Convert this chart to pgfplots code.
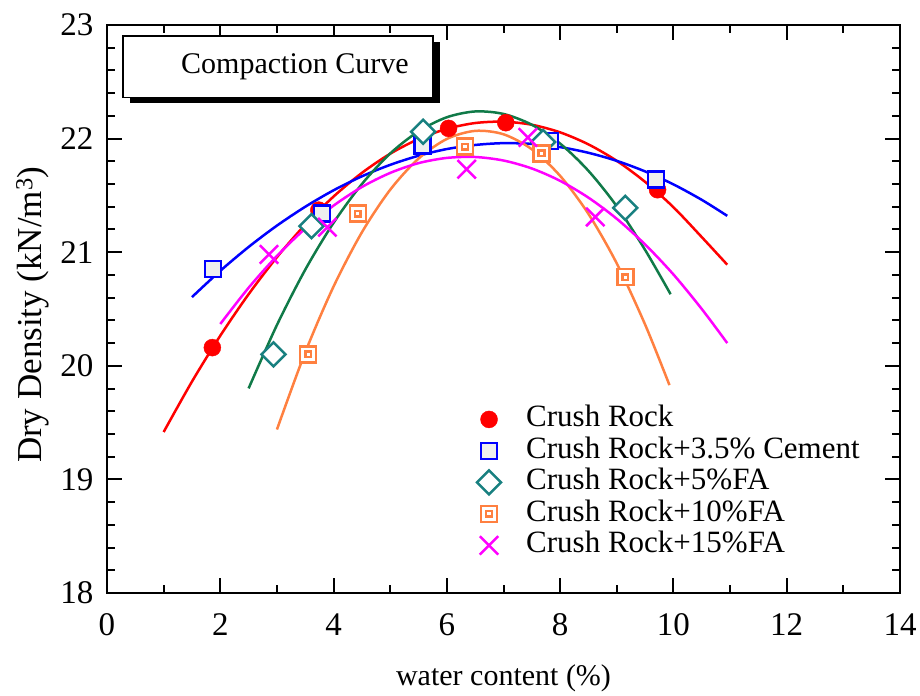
\documentclass[border=0pt]{standalone}
\usepackage{fontspec}
\setmainfont{Liberation Serif}
\usepackage{pgfplots}
\pgfplotsset{compat=1.18}
\definecolor{cred}{RGB}{255,0,0}
\definecolor{cblue}{RGB}{0,0,255}
\definecolor{cgreen}{RGB}{16,122,72}
\definecolor{cteal}{RGB}{24,128,128}
\definecolor{corange}{RGB}{255,128,64}
\definecolor{cmag}{RGB}{255,0,255}
\definecolor{cgray}{RGB}{238,238,238}
\pgfdeclareplotmark{dsq}{%
  \pgfpathrectangle{\pgfpoint{-\pgfplotmarksize}{-\pgfplotmarksize}}{\pgfpoint{2\pgfplotmarksize}{2\pgfplotmarksize}}%
  \pgfusepathqfillstroke
  \pgfpathrectangle{\pgfpoint{-0.35\pgfplotmarksize}{-0.35\pgfplotmarksize}}{\pgfpoint{0.7\pgfplotmarksize}{0.7\pgfplotmarksize}}%
  \pgfusepathqstroke}
\pgfdeclareplotmark{rdiam}{%
  \pgfpathmoveto{\pgfpoint{0pt}{\pgfplotmarksize}}%
  \pgfpathlineto{\pgfpoint{\pgfplotmarksize}{0pt}}%
  \pgfpathlineto{\pgfpoint{0pt}{-\pgfplotmarksize}}%
  \pgfpathlineto{\pgfpoint{-\pgfplotmarksize}{0pt}}%
  \pgfpathclose
  \pgfusepathqfillstroke}
\begin{document}
\begin{tikzpicture}
\begin{axis}[
  scale only axis, width=793pt, height=568pt,
  xmin=0, xmax=14, ymin=18, ymax=23,
  xtick={0,2,...,14}, minor x tick num=1,
  ytick={18,19,...,23}, minor y tick num=4,
  tick align=inside,
  major tick length=15pt, minor tick length=8pt,
  every tick/.style={black, line width=2pt},
  axis line style={line width=2.2pt},
  /pgf/number format/assume math mode=true,
  ticklabel style={font=\fontsize{33}{33}\selectfont},
  xticklabel style={yshift=-17pt},
  yticklabel style={xshift=-10pt},
  xlabel={water content (\%)},
  ylabel={Dry Density (kN/m\textsuperscript{3})},
  xlabel style={font=\fontsize{30}{30}\selectfont, at={(axis description cs:0.5,-0.15)}, anchor=center},
  ylabel style={font=\fontsize{35}{35}\selectfont, at={(axis description cs:-0.094,0.49)}, anchor=center},
  legend cell align=left,
  legend style={at={(rel axis cs:0.4626,0.335)}, anchor=north west, draw=none, fill=none,
    font=\fontsize{31}{31}\selectfont, row sep=2.5pt,
    nodes={inner ysep=0pt, text height=22pt, text depth=7pt}},
  legend image code/.code={\draw[mark repeat=2,mark phase=2] plot coordinates {(0pt,0pt)(15pt,0pt)(30pt,0pt)}; \path (50pt,0pt);},
]
% title box
\fill[black] (rel axis cs:0.0290,0.8620) rectangle (rel axis cs:0.4200,0.9700);
\draw[black, line width=1.2pt, fill=white] (rel axis cs:0.0202,0.8730) rectangle (rel axis cs:0.4110,0.9806);
\node[font=\fontsize{30}{30}\selectfont] at (rel axis cs:0.237,0.9268) {Compaction Curve};
% fitted curves
\addplot[cred, line width=2.5pt, smooth, forget plot] coordinates {
(1.0,19.417)(1.5,19.861)(2.0,20.265)(2.5,20.630)(3.0,20.956)(3.5,21.243)(4.0,21.490)(4.5,21.698)(5.0,21.867)(5.5,21.996)(6.0,22.086)(6.5,22.137)(7.0,22.149)(7.5,22.122)(8.0,22.055)(8.5,21.949)(9.0,21.804)(9.5,21.619)(10.0,21.396)(10.5,21.133)(10.95,20.890)};
\addplot[cblue, line width=2.5pt, smooth, forget plot] coordinates {
(1.5,20.605)(2.0,20.836)(2.5,21.046)(3.0,21.234)(3.5,21.400)(4.0,21.545)(4.5,21.668)(5.0,21.769)(5.5,21.849)(6.0,21.908)(6.5,21.944)(7.0,21.960)(7.5,21.953)(8.0,21.925)(8.5,21.875)(9.0,21.804)(9.5,21.711)(10.0,21.597)(10.5,21.461)(10.95,21.320)};
\addplot[cgreen, line width=2.5pt, smooth, forget plot] coordinates {
(2.5,19.801)(3.0,20.359)(3.5,20.846)(4.0,21.259)(4.5,21.600)(5.0,21.869)(5.5,22.064)(6.0,22.188)(6.5,22.239)(7.0,22.217)(7.5,22.122)(8.0,21.956)(8.5,21.716)(9.0,21.404)(9.5,21.020)(9.95,20.630)};
\addplot[corange, line width=2.5pt, smooth, forget plot] coordinates {
(3.0,19.439)(3.5,20.119)(4.0,20.698)(4.5,21.175)(5.0,21.550)(5.5,21.824)(6.0,21.997)(6.5,22.068)(7.0,22.038)(7.5,21.906)(8.0,21.672)(8.5,21.337)(9.0,20.901)(9.5,20.363)(9.93,19.830)};
\addplot[cmag, line width=2.5pt, smooth, forget plot] coordinates {
(2.0,20.368)(2.5,20.687)(3.0,20.967)(3.5,21.208)(4.0,21.410)(4.5,21.574)(5.0,21.698)(5.5,21.784)(6.0,21.830)(6.5,21.838)(7.0,21.807)(7.5,21.737)(8.0,21.628)(8.5,21.480)(9.0,21.294)(9.5,21.068)(10.0,20.804)(10.5,20.500)(10.95,20.200)};
% data points
\addplot[only marks, mark=*, mark size=8.5pt, cred, mark options={fill=cred, draw=cred}] coordinates {
(1.86,20.16)(3.74,21.37)(6.03,22.09)(7.04,22.14)(9.72,21.55)};
\addlegendentry{Crush Rock}
\addplot[only marks, mark=square*, mark size=8pt, mark options={draw=cblue, fill=cgray, line width=2.5pt}] coordinates {
(1.87,20.85)(3.80,21.34)(5.57,21.94)(7.82,21.98)(9.69,21.64)};
\addlegendentry{Crush Rock+3.5\% Cement}
\addplot[only marks, mark=rdiam, mark size=12pt, mark options={draw=cteal, fill=white, line width=2.5pt}] coordinates {
(2.94,20.10)(3.61,21.23)(5.58,22.06)(7.70,21.97)(9.15,21.39)};
\addlegendentry{Crush Rock+5\%FA}
\addplot[only marks, mark=dsq, mark size=8pt, mark options={draw=corange, fill=white, line width=2.5pt}] coordinates {
(3.55,20.10)(4.43,21.34)(6.32,21.93)(7.67,21.87)(9.15,20.78)};
\addlegendentry{Crush Rock+10\%FA}
\addplot[only marks, mark=x, mark size=13pt, mark options={draw=cmag, line width=2.5pt}] coordinates {
(2.86,20.98)(3.89,21.22)(6.35,21.73)(7.43,22.01)(8.62,21.31)};
\addlegendentry{Crush Rock+15\%FA}
\end{axis}
\useasboundingbox (current axis.south west) ++(-107pt,-97pt) rectangle ([xshift=20pt,yshift=25pt]current axis.north east);
\end{tikzpicture}
\end{document}
